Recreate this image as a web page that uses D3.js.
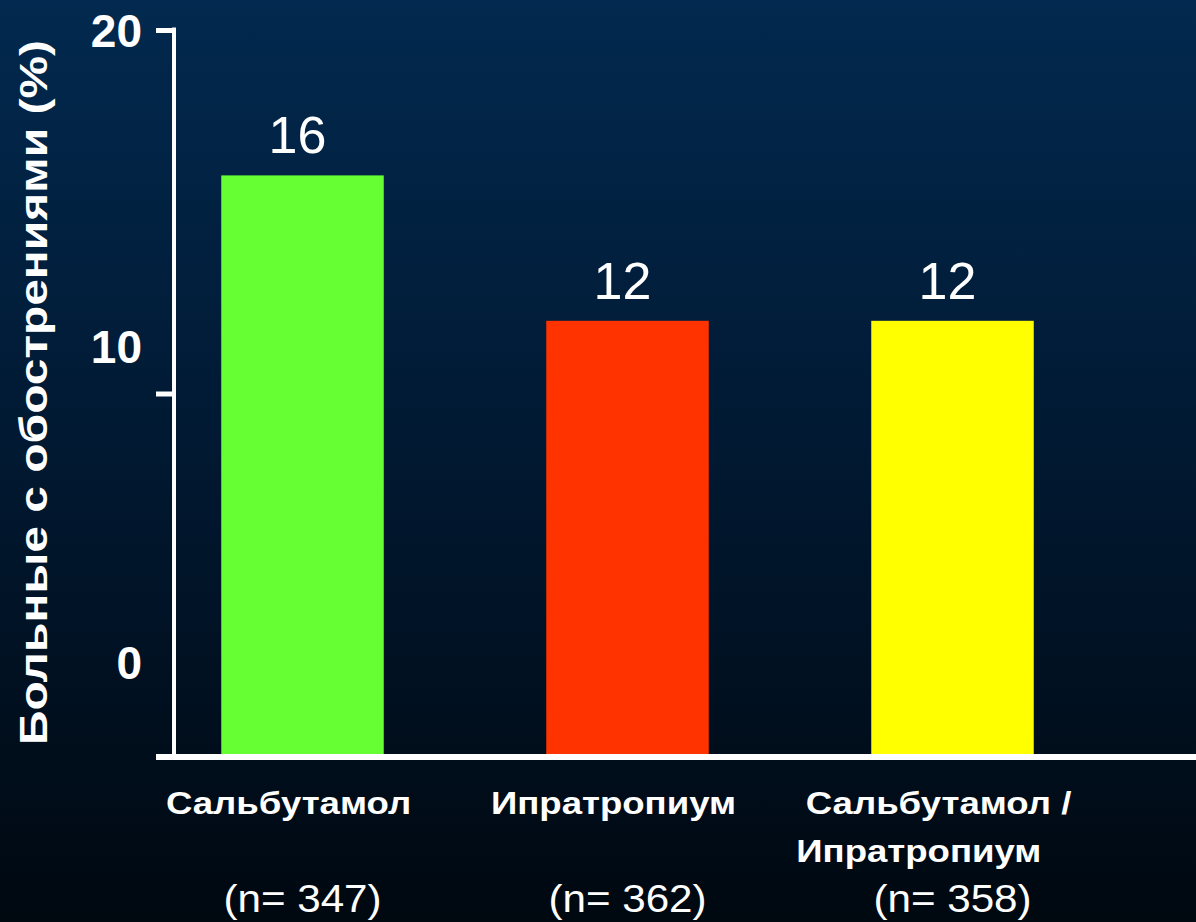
<!DOCTYPE html>
<html>
<head>
<meta charset="utf-8">
<script src="https://cdn.jsdelivr.net/npm/d3@7"></script>
<style>
  html, body { margin: 0; padding: 0; background: #000; }
  svg { display: block; }
  text { font-family: Arial, "Liberation Sans", sans-serif; fill: #fff; }
</style>
</head>
<body>
<div id="chart"></div>
<script>
// Share of patients with exacerbations by treatment arm
const categories = ["Сальбутамол", "Ипратропиум", "Сальбутамол /\nИпратропиум"];
const values = [16, 12, 12];
const sampleSizes = ["(n= 347)", "(n= 362)", "(n= 358)"];
const barColors = ["#66ff33", "#ff3300", "#ffff00"];
const yTicks = [0, 10, 20];
const yTitle = "Больные с обострениями (%)";

const W = 1196, H = 922;

const svg = d3.select("#chart").append("svg")
  .attr("width", W).attr("height", H);

const defs = svg.append("defs");
const grad = defs.append("linearGradient")
  .attr("id", "bg").attr("x1", 0).attr("y1", 0).attr("x2", 0).attr("y2", 1);
grad.append("stop").attr("offset", "0%").attr("stop-color", "#02294f");
grad.append("stop").attr("offset", "45%").attr("stop-color", "#011a34");
grad.append("stop").attr("offset", "100%").attr("stop-color", "#000810");
svg.append("rect").attr("width", W).attr("height", H).attr("fill", "url(#bg)");

const axisX = 174, baseY = 757, topY = 30;

const y = d3.scaleLinear().domain([0, 20]).range([baseY, topY]);
// tick labels sit on a compressed track running from the top tick downward
const yLabel = d3.scaleLinear().domain([0, 20]).range([y(0) - 95, y(20)]);

const x = d3.scaleBand()
  .domain(categories)
  .range([140, 1115])
  .paddingInner(0.5)
  .paddingOuter(0.25);
const cx = c => x(c) + x.bandwidth() / 2;

// bars
svg.append("g").selectAll("rect")
  .data(values)
  .join("rect")
  .attr("x", (d, i) => x(categories[i]))
  .attr("width", x.bandwidth())
  .attr("y", d => y(d))
  .attr("height", d => y(0) - y(d))
  .attr("fill", (d, i) => barColors[i]);

// value labels
svg.append("g").selectAll("text")
  .data(values)
  .join("text")
  .attr("x", (d, i) => cx(categories[i]) - 5)
  .attr("y", d => y(d) - 22)
  .attr("text-anchor", "middle")
  .attr("font-size", 52)
  .text(d => d);

// y axis with left-pointing ticks
const yAxis = d3.axisLeft(y).tickValues(yTicks).tickSize(18).tickFormat("");
const gy = svg.append("g").attr("transform", `translate(${axisX},0)`).call(yAxis);
gy.select(".domain").remove();
gy.selectAll(".tick line").attr("stroke", "#fff").attr("stroke-width", 5);
svg.append("line")
  .attr("x1", axisX).attr("x2", axisX)
  .attr("y1", y(20) - 2.5).attr("y2", y(0) + 3)
  .attr("stroke", "#fff").attr("stroke-width", 4);

// x axis baseline running to the right edge
svg.append("line")
  .attr("x1", axisX - 18).attr("x2", W)
  .attr("y1", y(0)).attr("y2", y(0))
  .attr("stroke", "#fff").attr("stroke-width", 6);

// tick labels
svg.append("g").selectAll("text")
  .data(yTicks)
  .join("text")
  .attr("x", 142)
  .attr("y", d => yLabel(d))
  .attr("dy", "0.36em")
  .attr("text-anchor", "end")
  .attr("font-size", 46)
  .attr("font-weight", "bold")
  .text(d => d);

// y axis title, stretched along its length
svg.append("text")
  .attr("transform", `translate(47,${(40 + 745) / 2}) rotate(-90)`)
  .attr("text-anchor", "middle")
  .attr("font-size", 39)
  .attr("font-weight", "bold")
  .attr("textLength", 705)
  .attr("lengthAdjust", "spacingAndGlyphs")
  .text(yTitle);

// category labels (wide set); wrapped lines are left-aligned under the first line
const catG = svg.append("g").selectAll("text")
  .data(categories)
  .join("text")
  .attr("text-anchor", "start")
  .attr("font-size", 31)
  .attr("font-weight", "bold")
  .attr("transform", d => `translate(${cx(d) - 14},814) scale(1.18,1)`);
catG.selectAll("tspan")
  .data(d => d.split("\n"))
  .join("tspan")
  .attr("dy", (d, i) => i === 0 ? 0 : 48)
  .text(d => d);
catG.each(function () {
  const spans = d3.select(this).selectAll("tspan");
  const firstW = spans.node().getComputedTextLength();
  spans.attr("x", (d, i) => -firstW / 2 - (i === 0 ? 0 : 8));
});

// sample sizes
svg.append("g").selectAll("text")
  .data(sampleSizes)
  .join("text")
  .attr("transform", (d, i) => `translate(${cx(categories[i])},912) scale(1.11,1)`)
  .attr("text-anchor", "middle")
  .attr("font-size", 38)
  .text(d => d);
</script>
</body>
</html>
